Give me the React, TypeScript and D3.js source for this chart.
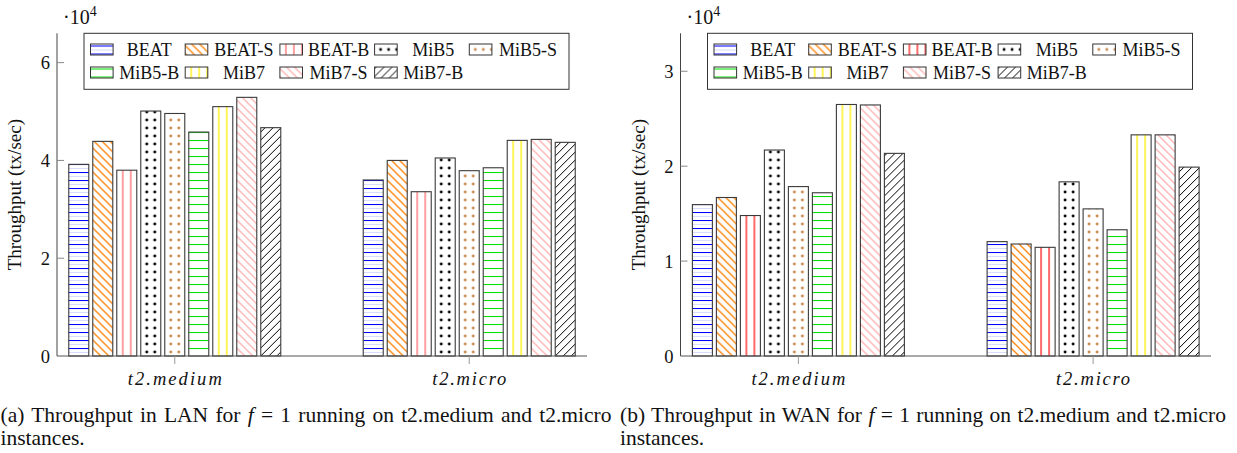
import React, { useLayoutEffect, useRef } from "react";
import * as d3 from "d3";

const categories = ["t2.medium", "t2.micro"];
const series = ["BEAT", "BEAT-S", "BEAT-B", "MiB5", "MiB5-S", "MiB5-B", "MiB7", "MiB7-S", "MiB7-B"];
const lanMedium = [39200, 43900, 38000, 50100, 49600, 45800, 51000, 52900, 46700];
const lanMicro = [36000, 40000, 33600, 40500, 37900, 38500, 44100, 44300, 43700];
const wanMedium = [15950, 16700, 14800, 21700, 17850, 17200, 26500, 26450, 21350];
const wanMicro = [12050, 11800, 11450, 18350, 15500, 13300, 23300, 23300, 19900];
const lanTicks = [0, 20000, 40000, 60000];
const wanTicks = [0, 10000, 20000, 30000];

const FONT = "'Liberation Serif', 'Times New Roman', serif";

function Patterns({ p, red }: { p: string; red: string }) {
  const sw = 1;
  return (
    <defs>
      <pattern id={`${p}-0`} patternUnits="userSpaceOnUse" width={8} height={8}>
        <rect width={8} height={8} fill="white" />
        <path d="M0 4.5H8" stroke="#d8dcff" strokeWidth={sw} />
        <path d="M0 0.5H8" stroke="#0000ff" strokeWidth={1.1} />
      </pattern>
      <pattern id={`${p}-1`} patternUnits="userSpaceOnUse" width={8} height={8}>
        <rect width={8} height={8} fill="white" />
        <path d="M-1 -1L9 9M-1 7L1 9M7 -1L9 1" stroke="#ff8000" strokeWidth={1.25} />
      </pattern>
      <pattern id={`${p}-2`} patternUnits="userSpaceOnUse" width={8} height={8}>
        <rect width={8} height={8} fill="white" />
        <path d="M6 0V8" stroke={red} strokeWidth={1.3} />
      </pattern>
      <pattern id={`${p}-3`} patternUnits="userSpaceOnUse" width={8} height={8}>
        <rect width={8} height={8} fill="white" />
        <circle cx={6} cy={4} r={1.45} fill="#000" />
      </pattern>
      <pattern id={`${p}-4`} patternUnits="userSpaceOnUse" width={8} height={8}>
        <rect width={8} height={8} fill="white" />
        <circle cx={6} cy={4} r={1.45} fill="#c8884c" />
      </pattern>
      <pattern id={`${p}-5`} patternUnits="userSpaceOnUse" width={8} height={8}>
        <rect width={8} height={8} fill="white" />
        <path d="M0 0.5H8" stroke="#00e000" strokeWidth={1.1} />
      </pattern>
      <pattern id={`${p}-6`} patternUnits="userSpaceOnUse" width={8} height={8}>
        <rect width={8} height={8} fill="white" />
        <path d="M6 0V8" stroke="#ffee00" strokeWidth={1.3} />
      </pattern>
      <pattern id={`${p}-7`} patternUnits="userSpaceOnUse" width={8} height={8}>
        <rect width={8} height={8} fill="white" />
        <path d="M-1 -1L9 9M-1 7L1 9M7 -1L9 1" stroke="#ffb0b0" strokeWidth={1.25} />
      </pattern>
      <pattern id={`${p}-8`} patternUnits="userSpaceOnUse" width={8} height={8}>
        <rect width={8} height={8} fill="white" />
        <path d="M-1 9L9 -1M-1 1L1 -1M7 9L9 7" stroke="#000" strokeWidth={sw} />
      </pattern>
    </defs>
  );
}

function Caption({ x, target, letter, net }: { x: number; target: number; letter: string; net: string }) {
  const ref = useRef<SVGTextElement>(null);
  useLayoutEffect(() => {
    const el = ref.current;
    if (!el) return;
    el.removeAttribute("word-spacing");
    const len = el.getComputedTextLength();
    const txt = el.textContent || "";
    const spaces = (txt.match(/ /g) || []).length;
    if (spaces > 0 && len < target) {
      el.setAttribute("word-spacing", String((target - len) / spaces));
    }
  }, [target]);
  return (
    <g>
      <text ref={ref} x={x} y={421.5} fontSize={21.5} fill="#111">
        ({letter}) Throughput in {net} for <tspan fontStyle="italic">f</tspan> = 1 running on t2.medium and t2.micro
      </text>
      <text x={x} y={445} fontSize={21.5} fill="#111">
        instances.
      </text>
    </g>
  );
}

type ChartProps = {
  p: string;
  left: number;
  right: number;
  ymax: number;
  ticks: number[];
  medium: number[];
  micro: number[];
  red: string;
  captionX: number;
  captionLen: number;
  letter: string;
  net: string;
};

function Chart(props: ChartProps) {
  const { p, left, right, ymax, ticks, medium, micro, red, captionX, captionLen, letter, net } = props;
  const top = 33.3;
  const base = 356;
  const x = d3.scaleLinear().domain([-0.4, 1.4]).range([left, right]);
  const y = d3.scaleLinear().domain([0, ymax]).range([base, top]);
  const values = [medium, micro];
  const legX = left + 27;
  const legW = 485;
  const colStep = 94.7;
  return (
    <g fontFamily={FONT}>
      <Patterns p={p} red={red} />
      {categories.map((c, ci) => {
        const cx = x(ci);
        const band = d3.scaleBand<string>().domain(series).range([cx - 106, cx + 106]).paddingInner(4 / 24);
        return (
          <g key={c}>
            {series.map((s, si) => {
              const bx = band(s)!;
              const h = base - y(values[ci][si]);
              return (
                <g key={s} transform={`translate(${bx},${base})`}>
                  <rect x={0} y={-h} width={band.bandwidth()} height={h} fill={`url(#${p}-${si})`} stroke="#3a3a3a" strokeWidth={1.1} />
                </g>
              );
            })}
          </g>
        );
      })}
      <line x1={left} x2={left} y1={top} y2={base} stroke="#444" strokeWidth={1} />
      <line x1={left} x2={right} y1={base} y2={base} stroke="#555" strokeWidth={1} />
      {ticks.map((t) => (
        <g key={t}>
          {t > 0 && <line x1={left} x2={left + 7} y1={y(t)} y2={y(t)} stroke="#888" strokeWidth={1} />}
          <text x={left - 7} y={y(t) + 6.5} textAnchor="end" fontSize={18.5} fill="#111">
            {t / 10000}
          </text>
        </g>
      ))}
      {categories.map((c, ci) => (
        <g key={c}>
          <line x1={x(ci)} x2={x(ci)} y1={base} y2={base + 8} stroke="#999" strokeWidth={1} />
          <text
            x={x(ci)}
            y={385}
            textAnchor="middle"
            fontSize={18.5}
            fontStyle="italic"
            fill="#111"
            textLength={ci === 0 ? 94 : 74}
            lengthAdjust="spacing"
          >
            {c}
          </text>
        </g>
      ))}
      <text x={left + 6} y={23.5} fontSize={20} fill="#111">
        ·10<tspan fontSize={14} dy={-8}>4</tspan>
      </text>
      <text transform={`translate(${left - 36},${(top + base) / 2}) rotate(-90)`} textAnchor="middle" fontSize={19} fill="#111">
        Throughput (tx/sec)
      </text>
      <rect x={legX} y={top} width={legW} height={56} fill="white" stroke="#333" strokeWidth={1} />
      {series.map((s, si) => {
        const row = si < 5 ? 0 : 1;
        const col = si < 5 ? si : si - 5;
        const sx = legX + 6.5 + col * colStep;
        const cy = row === 0 ? 49.5 : 72.5;
        return (
          <g key={s}>
            <g transform={`translate(${sx},${cy - 4})`}>
              <rect x={0} y={-1.5} width={22.6} height={11} fill={`url(#${p}-${si})`} stroke="#333" strokeWidth={1} />
            </g>
            <text x={sx + 58.7} y={cy + 6} textAnchor="middle" fontSize={18} fill="#111">
              {s}
            </text>
          </g>
        );
      })}
      <Caption x={captionX} target={captionLen} letter={letter} net={net} />
    </g>
  );
}

export default function App() {
  return (
    <svg width={1237} height={453} style={{ position: "absolute", left: 0, top: 0, background: "white" }}>
      <rect width={1237} height={453} fill="white" />
      <Chart
        p="lan"
        left={57}
        right={587}
        ymax={66000}
        ticks={lanTicks}
        medium={lanMedium}
        micro={lanMicro}
        red="#ff6e6e"
        captionX={0.5}
        captionLen={611}
        letter="a"
        net="LAN"
      />
      <Chart
        p="wan"
        left={680.5}
        right={1211}
        ymax={34000}
        ticks={wanTicks}
        medium={wanMedium}
        micro={wanMicro}
        red="#ff1a1a"
        captionX={620}
        captionLen={606}
        letter="b"
        net="WAN"
      />
    </svg>
  );
}
